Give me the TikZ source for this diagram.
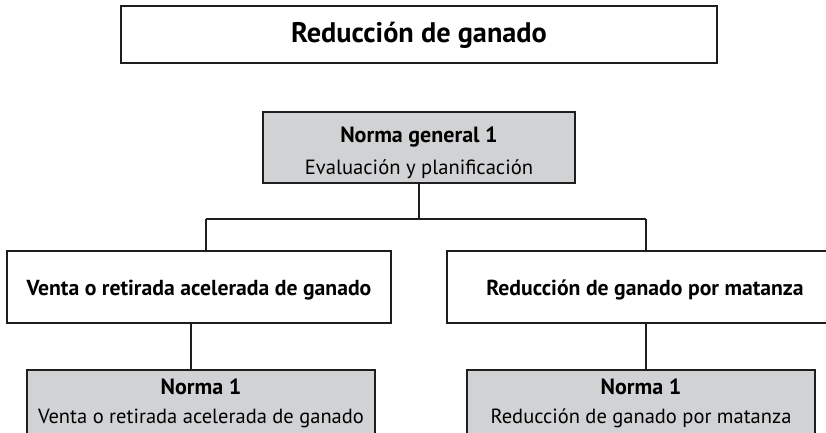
\documentclass[tikz,border=0pt]{standalone}
\usepackage{fontspec}
\setmainfont{PT Sans}
\definecolor{boxgray}{RGB}{209,210,212}
\definecolor{edge}{RGB}{30,30,30}
\newcommand{\bfsz}{\fontsize{22}{29}\selectfont\bfseries}
\begin{document}
\begin{tikzpicture}[x=1pt,y=-1pt,
  box/.style={draw=edge,line width=1.5pt,rectangle,inner sep=0pt,align=center,text=black,anchor=north},
  graybox/.style={box,fill=boxgray},
  conn/.style={draw=edge,line width=1.5pt}]
\useasboundingbox (0,0) rectangle (826,432);
\clip (0,0) rectangle (826,432);
\node[box,minimum width=596pt,text height=37pt,text depth=20pt,font=\fontsize{28.3}{34}\selectfont\bfseries] (title) at (419,5) {Reducción de ganado};
\node[graybox,minimum width=312pt,text height=63pt,text depth=8pt,font=\fontsize{20.6}{32}\selectfont] (ng1) at (419,111) {{\bfsz Norma general 1}\\Evaluación y planificación};
\node[box,minimum width=384pt,text height=45pt,text depth=27pt,font=\fontsize{21.7}{26}\selectfont\bfseries] (venta) at (199,250) {Venta o retirada acelerada de ganado};
\node[box,minimum width=396pt,text height=45pt,text depth=27pt,font=\fontsize{21.7}{26}\selectfont\bfseries] (mat) at (645,250) {Reducción de ganado por matanza};
\node[graybox,minimum width=348pt,text height=54pt,text depth=40pt,font=\fontsize{20.5}{29}\selectfont] (b1) at (201,369) {{\bfsz Norma 1}\\Venta o retirada acelerada de ganado};
\node[graybox,minimum width=348pt,text height=54pt,text depth=40pt,font=\fontsize{20.5}{29}\selectfont] (b2) at (641,369) {{\bfsz Norma 1}\\Reducción de ganado por matanza};
\coordinate (jl) at (206,219);
\coordinate (jr) at (646,219);
\draw[conn] (ng1.south) -- (ng1.south |- jl);
\draw[conn] (jl) -- (jr);
\draw[conn] (jl) -- (jl |- venta.north);
\draw[conn] (jr) -- (jr |- mat.north);
\draw[conn] ([xshift=-8pt]venta.south) -- ([xshift=-8pt]venta.south |- b1.north);
\draw[conn] (mat.south -| jr) -- (jr |- b2.north);
\end{tikzpicture}
\end{document}
